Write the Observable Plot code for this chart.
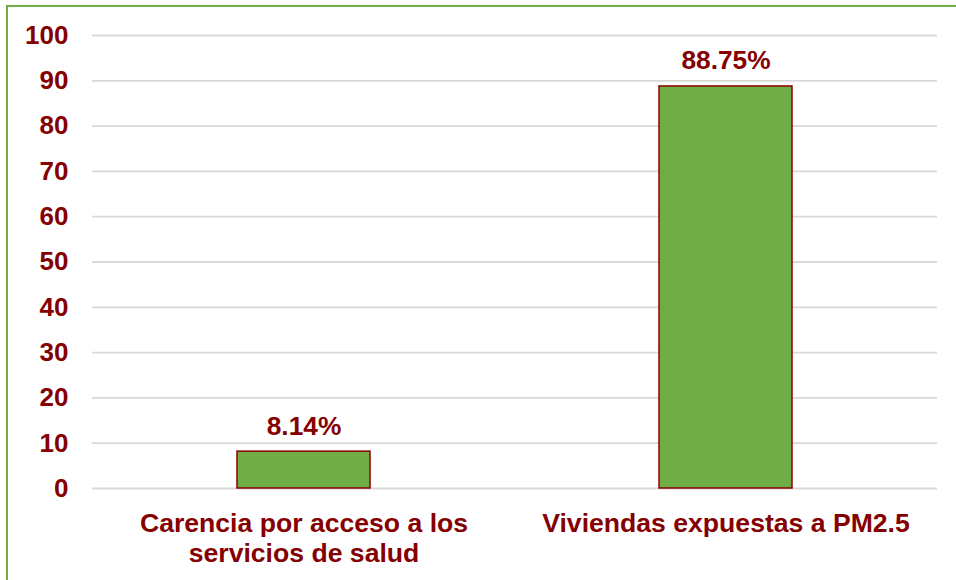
<!DOCTYPE html>
<html>
<head>
<meta charset="utf-8">
<script src="https://cdn.jsdelivr.net/npm/d3@7"></script>
<script src="https://cdn.jsdelivr.net/npm/@observablehq/plot@0.6"></script>
<style>
  html, body { margin: 0; padding: 0; background: #ffffff; }
  #wrap { position: relative; width: 956px; height: 580px; overflow: hidden; background: #fff; }
  #frame { position: absolute; left: 6px; top: 5px; width: 980px; height: 600px;
           border-top: 2px solid #70AD47; border-left: 2px solid #70AD47; pointer-events: none; }
  #chart { position: absolute; left: 0; top: 0; }
</style>
</head>
<body>
<div id="wrap">
  <div id="chart"></div>
  <div id="frame"></div>
</div>
<script>
const categories = ["Carencia por acceso a los\nservicios de salud", "Viviendas expuestas a PM2.5"];
const values = [8.14, 88.75];
const valueLabels = ["8.14%", "88.75%"];
const yTicks = [0, 10, 20, 30, 40, 50, 60, 70, 80, 90, 100];

const data = categories.map((c, i) => ({category: c, value: values[i], label: valueLabels[i]}));

const textColor = "#850000";
const font = "'Liberation Sans', Arial, sans-serif";

const chart = Plot.plot({
  width: 956,
  height: 580,
  marginLeft: 92,
  marginRight: 19,
  marginTop: 35,
  marginBottom: 92,
  style: {fontFamily: font, fontSize: "26px", fontWeight: "bold", color: textColor, background: "transparent", overflow: "visible"},
  x: {domain: categories, paddingInner: 0.685, paddingOuter: 0.3425, axis: null},
  y: {domain: [0, 100], ticks: yTicks, axis: null},
  marks: [
    Plot.gridY(yTicks, {stroke: "#d9d9d9", strokeOpacity: 1, strokeWidth: 1.8}),
    Plot.axisY(yTicks, {tickSize: 0, tickPadding: 24, fontSize: 26, fontWeight: "bold", fill: textColor, tickFormat: d => String(d), label: null}),
    Plot.barY(data, {x: "category", y: "value", fill: "#70AD47", stroke: "#8B0000", strokeWidth: 1.5}),
    Plot.text(data, {x: "category", y: "value", text: "label", lineAnchor: "bottom", dy: -17, fontSize: 26.3, fontWeight: "bold", fill: textColor}),
    Plot.text(data, {x: "category", y: () => 0, text: "category", lineAnchor: "top", dy: 21.5, lineHeight: 1.14, fontSize: 26.6, fontWeight: "bold", fill: textColor})
  ]
});
document.getElementById("chart").appendChild(chart);
</script>
</body>
</html>
